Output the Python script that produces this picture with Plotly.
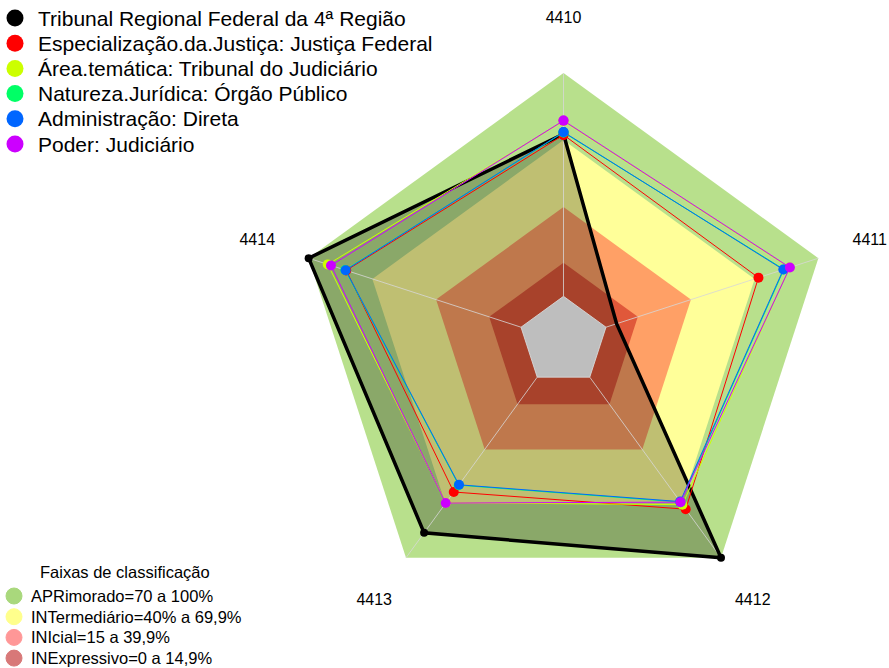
import plotly.graph_objects as go

# Indicadores (eixos do radar)
categorias = ["4410", "4411", "4412", "4413", "4414"]

# Séries de pontuação (%) por indicador
tribunal = [72.7, 5.0, 100.0, 86.2, 100.0]
especializacao = [72.3, 71.8, 73.1, 63.6, 82.3]
area_tematica = [78.5, 86.4, 70.6, 69.5, 91.0]
natureza = [73.4, 83.8, 69.2, 59.8, 82.8]
administracao = [73.6, 83.5, 68.9, 59.6, 82.6]
poder = [78.7, 86.6, 69.2, 69.7, 89.5]

nomes_series = [
    "Tribunal Regional Federal da 4ª Região",
    "Especialização.da.Justiça: Justiça Federal",
    "Área.temática: Tribunal do Judiciário",
    "Natureza.Jurídica: Órgão Público",
    "Administração: Direta",
    "Poder: Judiciário",
]
cores_series = ["#000000", "#FF0000", "#CCFF00", "#00FF66", "#0066FF", "#CC00FF"]

# Faixas de classificação (limite superior de cada faixa)
titulo_faixas = "Faixas de classificação"
faixas_nomes = [
    "APRimorado=70 a 100%",
    "INTermediário=40% a 69,9%",
    "INIcial=15 a 39,9%",
    "INExpressivo=0 a 14,9%",
]
faixas_limites = [100, 70, 40, 15]
faixas_cores = ["#B8E08C", "#FFFF99", "#FFA066", "#E0583A"]
faixas_legenda = ["#A9D87C", "#FFFF8C", "#FF9797", "#D87878"]

# Posição radial dos rótulos dos eixos (fora do pentágono externo)
R_ROTULO = 124.2
R_MIN, R_MAX = -20, 125.5

FONT = "Liberation Sans, Arial, sans-serif"
W, H = 889, 668

# Geometria do radar em pixels
CX, CY = 563.5, 341.0
PX_POR_UNIDADE = 2.233
RAIO = (R_MAX - R_MIN) * PX_POR_UNIDADE


def fechar(vals):
    return list(vals) + [vals[0]]


def py(pix):
    """Converte posição vertical em pixels (a partir do topo) para fração do papel."""
    return 1 - pix / H


def px(pix):
    return pix / W


theta_f = fechar(categorias)
fig = go.Figure()

# Faixas coloridas empilhadas
for lim, cor in zip(faixas_limites, faixas_cores):
    fig.add_trace(go.Scatterpolar(
        r=fechar([lim] * len(categorias)), theta=theta_f,
        mode="lines", fill="toself", fillcolor=cor,
        line=dict(width=0, color=cor), hoverinfo="skip",
    ))

# Área sombreada do tribunal
fig.add_trace(go.Scatterpolar(
    r=fechar(tribunal), theta=theta_f, mode="lines", fill="toself",
    fillcolor="rgba(0,0,0,0.25)", line=dict(width=0, color="rgba(0,0,0,0)"),
    hoverinfo="skip",
))

# Miolo cinza (abaixo de zero)
fig.add_trace(go.Scatterpolar(
    r=fechar([0] * len(categorias)), theta=theta_f, mode="lines",
    fill="toself", fillcolor="#BEBEBE",
    line=dict(width=1, color="rgba(215,215,215,0.9)"),
    hoverinfo="skip",
))

# Raios de cada eixo
for c in categorias:
    fig.add_trace(go.Scatterpolar(
        r=[0, 100], theta=[c, c], mode="lines",
        line=dict(width=1, color="rgba(215,215,215,0.8)"),
        hoverinfo="skip",
    ))

# Séries
series = [tribunal, especializacao, area_tematica, natureza, administracao, poder]
for i, (vals, nome, cor) in enumerate(zip(series, nomes_series, cores_series)):
    fig.add_trace(go.Scatterpolar(
        r=fechar(vals), theta=theta_f, mode="lines+markers", name=nome,
        line=dict(width=3.5 if i == 0 else 1, color=cor),
        marker=dict(size=8 if i == 0 else 10, color=cor),
    ))

# Rótulos dos eixos
fig.add_trace(go.Scatterpolar(
    r=[R_ROTULO] * len(categorias), theta=categorias, mode="text",
    text=categorias, textposition="middle center", cliponaxis=False,
    textfont=dict(size=16, family=FONT, color="#000000"), hoverinfo="skip",
))

# Legenda das séries (topo esquerdo)
shapes, annots = [], []
for k, (nome, cor) in enumerate(zip(nomes_series, cores_series)):
    yc = py(18 + 25.2 * k)
    shapes.append(dict(
        type="circle", xref="paper", yref="paper", xsizemode="pixel",
        ysizemode="pixel", xanchor=px(15), yanchor=yc,
        x0=-8.5, x1=8.5, y0=-8.5, y1=8.5,
        fillcolor=cor, line=dict(width=0),
    ))
    annots.append(dict(
        x=px(36), y=yc, xref="paper", yref="paper", xanchor="left",
        yanchor="middle", text=nome, showarrow=False,
        font=dict(size=21, family=FONT, color="#000000"),
    ))

# Legenda das faixas (canto inferior esquerdo)
annots.append(dict(
    x=px(125), y=py(572), xref="paper", yref="paper", xanchor="center",
    yanchor="middle", text=titulo_faixas, showarrow=False,
    font=dict(size=16.5, family=FONT, color="#000000"),
))
for k, (nome, cor) in enumerate(zip(faixas_nomes, faixas_legenda)):
    yc = py(596 + 20.7 * k)
    shapes.append(dict(
        type="circle", xref="paper", yref="paper", xsizemode="pixel",
        ysizemode="pixel", xanchor=px(14), yanchor=yc,
        x0=-8, x1=8, y0=-8, y1=8,
        fillcolor=cor, line=dict(width=1, color=cor),
    ))
    annots.append(dict(
        x=px(29), y=yc, xref="paper", yref="paper", xanchor="left",
        yanchor="middle", text=nome, showarrow=False,
        font=dict(size=16.5, family=FONT, color="#000000"),
    ))

fig.update_layout(
    width=W, height=H,
    margin=dict(l=0, r=0, t=0, b=0),
    paper_bgcolor="white",
    showlegend=False,
    font=dict(family=FONT, color="#000000"),
    polar=dict(
        domain=dict(
            x=[px(CX - RAIO), min(px(CX + RAIO), 1.0)],
            y=[max(py(CY + RAIO), 0.0), py(CY - RAIO)],
        ),
        gridshape="linear",
        bgcolor="rgba(0,0,0,0)",
        radialaxis=dict(range=[R_MIN, R_MAX], visible=False, showgrid=False),
        angularaxis=dict(
            direction="clockwise", rotation=90, showgrid=False, showline=False,
            showticklabels=False, ticks="",
        ),
    ),
    shapes=shapes,
    annotations=annots,
)

fig.write_html("out.html")
